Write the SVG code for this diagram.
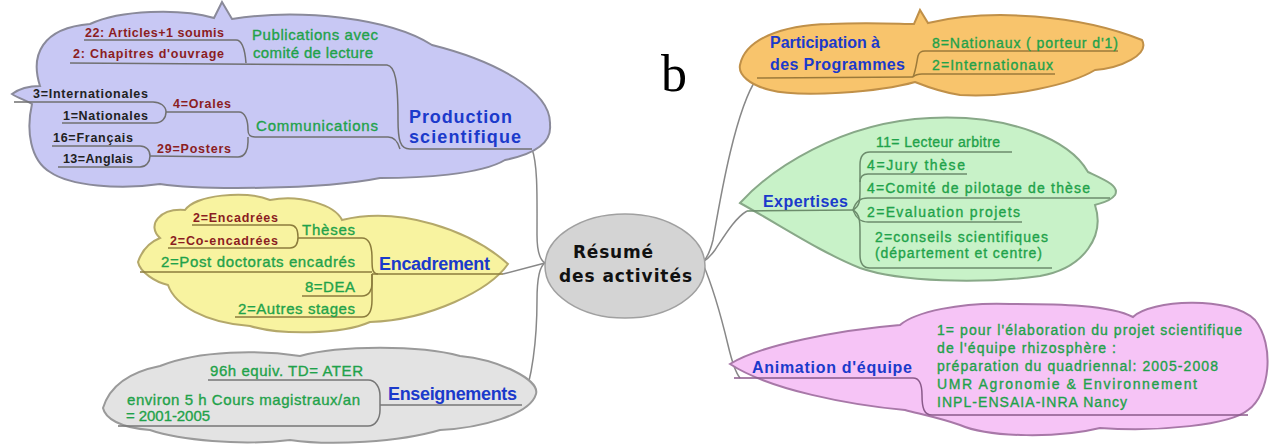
<svg xmlns="http://www.w3.org/2000/svg" width="1269" height="444" viewBox="0 0 1269 444">
<style>
text{font-family:"Liberation Sans",Arial,sans-serif}
.red{font-size:12.5px;font-weight:bold;fill:#8b1d22}
.blk{font-size:12.5px;font-weight:bold;fill:#222}
.grn{font-size:15px;fill:#1fa24a;stroke:#1fa24a;stroke-width:0.35}
.gs{font-size:14px;fill:#1fa24a;stroke:#1fa24a;stroke-width:0.35}
.blue{font-size:18px;font-weight:bold;fill:#1b3acb}
.bm{font-size:16px;font-weight:bold;fill:#1b3acb}
.ctr{font-family:"DejaVu Sans",sans-serif;font-size:17px;font-weight:bold;fill:#111}
.ul{fill:none;stroke-width:1.5}
.conn{fill:none;stroke:#888;stroke-width:1.5}
</style>
<rect width="1269" height="444" fill="#fff"/>

<g id="connectors">
<path class="conn" d="M532,149 C538,165 537,200 537,235 C537,252 540,260 545,263"/>
<path class="conn" d="M503,274 L545,263"/>
<path class="conn" d="M522,403 C532,380 537,340 537,300 C537,275 540,266 545,263"/>
<path class="conn" d="M757,78 C735,110 720,200 713,240 C710,252 707,258 703,262"/>
<path class="conn" d="M747,211 C735,218 725,235 715,250 C710,257 706,260 703,262"/>
<path class="conn" d="M703,264 C712,285 722,320 728,345 C732,362 735,372 740,378"/>
</g>

<g id="production">
<path d="M12,94 C20,88 30,86 40,86 C30,55 42,28 90,24 C120,10 180,8 214,18 L222,2 L232,19 C300,8 390,18 432,45 C492,60 552,90 550,125 C552,145 530,155 505,160 C480,175 420,178 380,178 C320,190 200,190 160,184 C120,190 70,186 50,172 C30,160 26,130 32,104 C25,100 18,98 12,94 Z" fill="#c8c8f4" stroke="#8a8a9a" stroke-width="2"/>
<g class="ul" stroke="#707070">
<path d="M84,40 L236,40 C242,40 245,50 246,63"/>
<path d="M70,63 L387,65 C395,66 398,80 398,120 C398,140 400,149 410,149 L532,149"/>
<path d="M14,102 L153,102 C160,102 166,106 166,112"/>
<path d="M62,123 L155,123 C162,123 166,118 166,112"/>
<path d="M166,112 L239,112 C245,112 248,120 248,130 C248,134 249,137 255,137 L388,137 C395,137 398,142 400,149"/>
<path d="M52,146 L140,146 C146,146 150,150 150,156"/>
<path d="M58,167 L140,167 C146,167 150,162 150,156"/>
<path d="M150,156 L238,157 C245,157 248,150 248,142 L248,137"/>
</g>
<text class="red" x="85" y="37" textLength="139">22: Articles+1 soumis</text>
<text class="red" x="73" y="58" textLength="151">2: Chapitres d'ouvrage</text>
<text class="grn" x="252" y="40" textLength="126">Publications avec</text>
<text class="grn" x="253" y="58" textLength="120">comité de lecture</text>
<text class="blk" x="33" y="98" textLength="115">3=Internationales</text>
<text class="blk" x="63" y="120" textLength="85">1=Nationales</text>
<text class="red" x="173" y="108" textLength="58">4=Orales</text>
<text class="grn" x="256" y="131" textLength="122">Communications</text>
<text class="blk" x="53" y="142" textLength="80">16=Français</text>
<text class="red" x="157" y="153" textLength="74">29=Posters</text>
<text class="blk" x="63" y="163" textLength="70">13=Anglais</text>
<text class="blue" x="409" y="123" textLength="103">Production</text>
<text class="blue" x="409" y="143" textLength="112">scientifique</text>
</g>

<g id="encadrement">
<path d="M138,262 C142,250 150,242 160,238 C146,225 160,208 185,210 C195,195 245,190 270,200 C300,194 335,205 342,220 C400,206 470,230 508,264 C490,290 430,320 370,322 C340,335 280,335 250,326 C205,323 175,305 168,285 C155,282 140,272 138,262 Z" fill="#f8f3a0" stroke="#b4a86a" stroke-width="2"/>
<g class="ul" stroke="#8c7c3c">
<path d="M192,225 L290,225 C296,225 298,230 298,237"/>
<path d="M168,248 L290,248 C296,248 298,243 298,237"/>
<path d="M298,238 L362,238 C369,238 372,245 372,258 C372,268 372,274 378,274"/>
<path d="M140,272 L372,272"/>
<path d="M372,274 L503,274"/>
<path d="M302,296 L362,296 C369,296 372,290 372,284 L372,274"/>
<path d="M235,317 L362,317 C369,317 372,310 372,300 L372,274"/>
</g>
<text class="red" x="193" y="222" textLength="85">2=Encadrées</text>
<text class="red" x="170" y="245" textLength="108">2=Co-encadrées</text>
<text class="grn" x="302" y="235" textLength="53">Thèses</text>
<text class="grn" x="161" y="267" textLength="194">2=Post doctorats encadrés</text>
<text class="grn" x="305" y="292" textLength="50">8=DEA</text>
<text class="grn" x="238" y="314" textLength="117">2=Autres stages</text>
<text class="blue" x="379" y="270" textLength="111">Encadrement</text>
</g>

<g id="enseignements">
<path d="M103,408 C110,385 130,372 160,366 C200,350 260,350 300,356 C340,345 420,345 460,356 C500,360 540,380 536,394 C530,415 480,428 440,430 C400,442 330,446 290,440 C240,446 180,440 150,430 C120,428 105,418 103,408 Z" fill="#e3e3e3" stroke="#9a9a9a" stroke-width="2"/>
<g class="ul" stroke="#777">
<path d="M208,380 L368,380 C376,380 380,388 380,396 L380,405"/>
<path d="M118,426 L368,426 C376,426 380,418 380,410 L380,405"/>
<path d="M380,405 L522,405"/>
</g>
<text class="grn" x="210" y="376" textLength="153">96h equiv. TD= ATER</text>
<text class="grn" x="127" y="405" textLength="233">environ 5 h Cours magistraux/an</text>
<text class="grn" x="126" y="421" textLength="84">= 2001-2005</text>
<text class="blue" x="388" y="400" textLength="129">Enseignements</text>
</g>

<g id="centre">
<ellipse cx="625" cy="266" rx="80" ry="52" fill="#d4d4d4" stroke="#a0a0a0" stroke-width="1.5"/>
<text class="ctr" x="573" y="258" textLength="80">Résumé</text>
<text class="ctr" x="559" y="282" textLength="133">des activités</text>
</g>

<g id="label-b">
<text x="661" y="91" font-size="52" fill="#000" style="font-family:'Liberation Serif','Times New Roman',serif">b</text>
</g>

<g id="participation">
<path d="M740,65 C745,40 780,25 830,24 C870,22 900,24 914,24 L920,10 L928,23 C990,8 1080,15 1142,40 C1150,55 1120,68 1095,70 C1070,85 1010,98 960,95 C940,92 925,86 915,82 C880,92 800,98 770,90 C750,85 738,75 740,65 Z" fill="#f8c46c" stroke="#c09048" stroke-width="2"/>
<g class="ul" stroke="#9c7a3a">
<path d="M757,78 L913,77"/>
<path d="M913,77 C916,70 917,60 918,56 C919,52 921,51 925,51 L1118,51"/>
<path d="M913,77 C915,75 917,74 922,74 L1055,74"/>
</g>
<text class="bm" x="770" y="48" textLength="110">Participation à</text>
<text class="bm" x="770" y="70" textLength="135">des Programmes</text>
<text class="gs" x="932" y="48" textLength="186">8=Nationaux ( porteur d'1)</text>
<text class="gs" x="932" y="70" textLength="121">2=Internationaux</text>
</g>

<g id="expertises">
<path d="M740,203 C770,170 840,122 930,118 C1010,114 1070,140 1088,172 C1105,180 1120,186 1115,195 C1110,202 1100,203 1095,205 C1105,235 1085,268 1040,276 C980,284 900,282 860,268 C820,252 780,225 740,203 Z" fill="#c8f2c8" stroke="#88a888" stroke-width="2"/>
<g class="ul" stroke="#6c8c6c">
<path d="M747,211 L853,210"/>
<path d="M853,210 C860,206 860,200 860,190 L860,165 C860,157 863,152 870,152 L1012,152"/>
<path d="M860,182 C860,177 863,174 868,174 L967,174"/>
<path d="M853,210 C856,201 860,198 868,198 L1110,198"/>
<path d="M853,210 C856,218 860,222 868,222 L1022,222"/>
<path d="M853,210 C860,214 860,222 860,232 L860,255 C860,263 863,268 870,268 L1052,268"/>
</g>
<text class="bm" x="763" y="207" textLength="85">Expertises</text>
<text class="gs" x="876" y="147" textLength="124">11= Lecteur arbitre</text>
<text class="gs" x="867" y="170" textLength="98">4=Jury thèse</text>
<text class="gs" x="867" y="193" textLength="223">4=Comité de pilotage de thèse</text>
<text class="gs" x="867" y="217" textLength="153">2=Evaluation projets</text>
<text class="gs" x="875" y="242" textLength="173">2=conseils scientifiques</text>
<text class="gs" x="875" y="258" textLength="167">(département et centre)</text>
</g>

<g id="animation">
<path d="M730,364 C760,345 840,330 900,325 C915,312 960,302 1010,304 C1060,304 1110,305 1133,317 C1150,300 1230,295 1255,320 C1275,345 1270,395 1248,410 C1230,425 1160,432 1100,428 C1060,438 990,438 960,425 C940,418 920,414 905,410 C850,405 770,390 730,364 Z" fill="#f6c4f6" stroke="#a878a8" stroke-width="2"/>
<g class="ul" stroke="#8a5a8a">
<path d="M734,378 L913,378 C920,378 922,385 922,395 C922,408 924,415 932,415 L1248,415"/>
</g>
<text class="bm" x="752" y="373" textLength="160">Animation d'équipe</text>
<text class="gs" x="937" y="335" textLength="305">1= pour l'élaboration du projet scientifique</text>
<text class="gs" x="937" y="353" textLength="179">de l'équipe rhizosphère :</text>
<text class="gs" x="937" y="371" textLength="281">préparation du quadriennal: 2005-2008</text>
<text class="gs" x="937" y="389" textLength="260">UMR Agronomie &amp; Environnement</text>
<text class="gs" x="937" y="407" textLength="190">INPL-ENSAIA-INRA Nancy</text>
</g>
</svg>
